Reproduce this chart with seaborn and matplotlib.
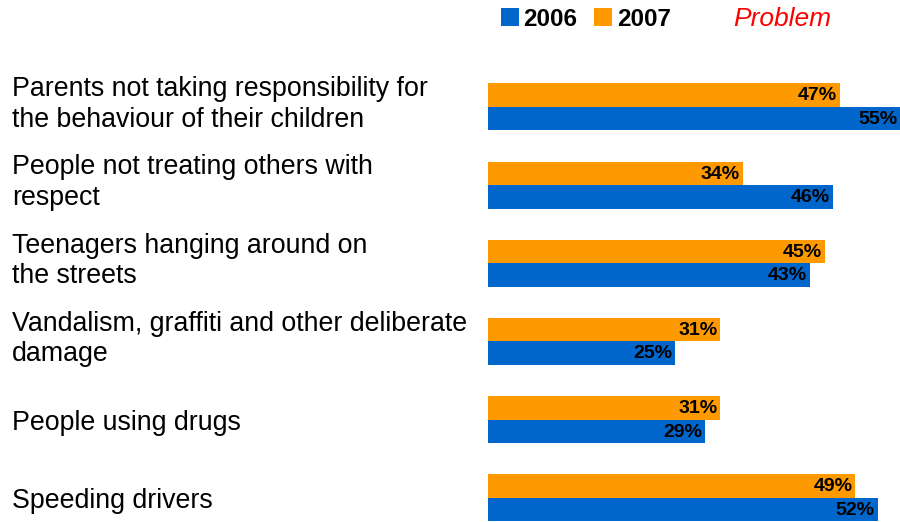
import matplotlib
matplotlib.use("Agg")
import matplotlib.pyplot as plt
import matplotlib.transforms as mtransforms
from matplotlib.patches import Patch
import seaborn as sns
import pandas as pd

categories = [
    "Parents not taking responsibility for\nthe behaviour of their children",
    "People not treating others with\nrespect",
    "Teenagers hanging around on\nthe streets",
    "Vandalism, graffiti and other deliberate\ndamage",
    "People using drugs",
    "Speeding drivers",
]
values_2006 = [55, 46, 43, 25, 29, 52]
values_2007 = [47, 34, 45, 31, 31, 49]
years = ["2006", "2007"]
colors = {"2006": "#0066CC", "2007": "#FF9900"}

rows = []
for i, c in enumerate(categories):
    rows.append({"cat": c, "year": "2007", "val": values_2007[i]})
    rows.append({"cat": c, "year": "2006", "val": values_2006[i]})
df = pd.DataFrame(rows)

sns.set_theme(style="white")
plt.rcParams["font.family"] = ["Liberation Sans", "DejaVu Sans"]
plt.rcParams["text.color"] = "black"

fig = plt.figure(figsize=(9, 5.22), dpi=100)
ax = fig.add_axes([488 / 900, 0.0, 412 / 900, 1 - 60 / 522])

sns.barplot(data=df, y="cat", x="val", hue="year", hue_order=["2007", "2006"],
            order=categories, palette=colors, orient="h", width=0.60,
            saturation=1, ax=ax, legend=False, linewidth=0)

ax.set_xlim(0, 55)
ax.set_ylim(5.31, -0.60)
ax.set_xlabel("")
ax.set_ylabel("")
ax.set_xticks([])
ax.set_yticks([])
for s in ax.spines.values():
    s.set_visible(False)

# value labels
for container, yr in zip(ax.containers, ["2007", "2006"]):
    vals = values_2007 if yr == "2007" else values_2006
    for bar, v in zip(container, vals):
        yc = bar.get_y() + bar.get_height() / 2
        ax.annotate(f"{v}%", xy=(v, yc), xytext=(-2, -0.5), textcoords="offset points",
                    ha="right", va="center", fontsize=14, fontweight="bold",
                    color="black")

# category labels
trans = mtransforms.blended_transform_factory(fig.transFigure, ax.transData)
for i, c in enumerate(categories):
    dy = -0.03 if "\n" in c else 0.04
    ax.text(12 / 900, i + dy, c, transform=trans, ha="left", va="center",
            fontsize=19.3, color="black", linespacing=1.23)

# legend
handles = [Patch(facecolor=colors[y], edgecolor="none") for y in years]
fig.legend(handles, years, ncol=2, loc="center left",
           bbox_to_anchor=(501 / 900, 1 - 19 / 522), frameon=False,
           prop={"weight": "bold", "size": 17.5}, handlelength=0.72,
           handleheight=0.72, handletextpad=0.2, columnspacing=0.7,
           borderaxespad=0, borderpad=0, labelcolor="black")
fig.text(733 / 900, 1 - 19 / 522, "Problem", color="#FF0000", fontsize=19,
         fontstyle="italic", ha="left", va="center")

fig.savefig("out.png", dpi=100)
